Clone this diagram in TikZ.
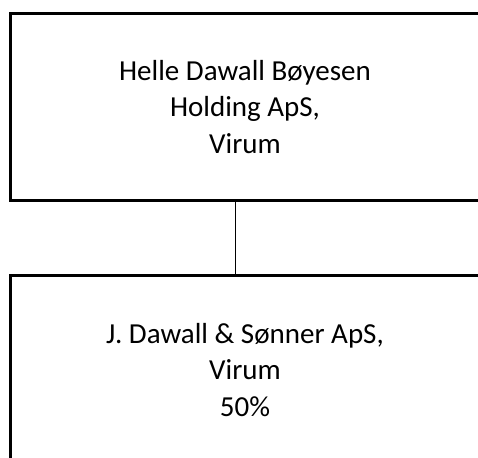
\documentclass[tikz,border=0pt]{standalone}
\usepackage{fontspec}
\setmainfont{Carlito}
\usetikzlibrary{positioning}

\begin{document}
\begin{tikzpicture}[x=1pt,y=-1pt,
		firm/.style={draw,line width=2.7pt,align=center,inner sep=0pt,
			font=\fontsize{29}{36.5}\selectfont},
		link/.style={line width=1.3pt}]

	    \useasboundingbox (0,0) rectangle (478,457);
	    \clip (0,0) rectangle (478,457);

	    \node[firm,minimum width=469.4pt,minimum height=186.6pt] (holding) at (245,107)
	    	{Helle Dawall Bøyesen\\Holding ApS,\\Virum};
	    \node[firm,minimum width=469.4pt,minimum height=189.4pt] (soenner) at (245,370)
	    	{J. Dawall \& Sønner ApS,\\Virum\\50\%};

	    \coordinate (tap) at (235.7,0);
	    \draw[link] (holding.south -| tap) -- (soenner.north -| tap);

	\end{tikzpicture}
\end{document}
